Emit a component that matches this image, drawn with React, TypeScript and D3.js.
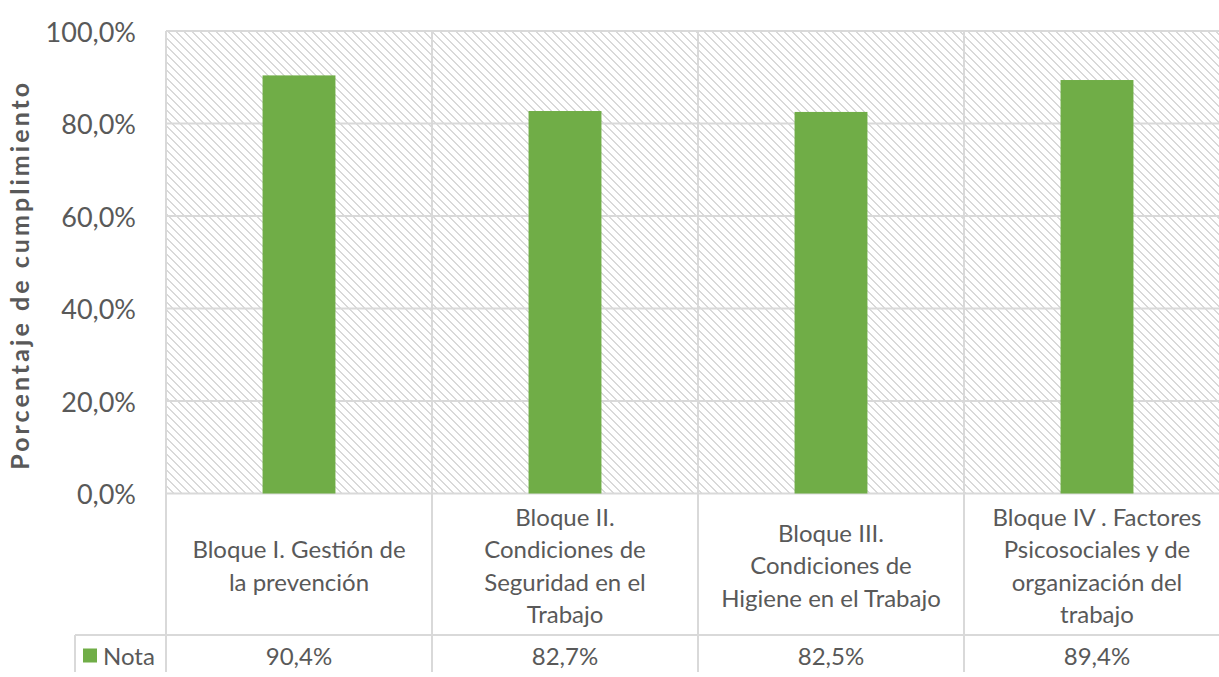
import React from "react";
import * as d3 from "d3";

const categories: string[][] = [
  ["Bloque I. Gestión de", "la prevención"],
  ["Bloque II.", "Condiciones de", "Seguridad en el", "Trabajo"],
  ["Bloque III.", "Condiciones de", "Higiene en el Trabajo"],
  ["Bloque IV . Factores", "Psicosociales y de", "organización del", "trabajo"],
];
const seriesName = "Nota";
const values = [0.904, 0.827, 0.825, 0.894];
const valueLabels = ["90,4%", "82,7%", "82,5%", "89,4%"];
const yTicks = [0, 0.2, 0.4, 0.6, 0.8, 1.0];
const yTitle = "Porcentaje de cumplimiento";

const W = 1219;
const H = 677;
const left = 166;
const right = 1230;
const top = 31;
const bottom = 493.5;
const labelRowBottom = 635;
const tableBottom = 672;
const grid = "#d9d9d9";
const textColor = "#595959";
const green = "#70ad47";
const font = "Lato, 'Open Sans', sans-serif";

export default function App() {
  const keys = categories.map((_, i) => String(i));
  const xCell = d3.scaleBand<string>().domain(keys).range([left, right]);
  const xBar = d3
    .scaleBand<string>()
    .domain(keys)
    .range([left, right])
    .paddingInner(0.726)
    .paddingOuter(0.363);
  const y = d3.scaleLinear().domain([0, 1]).range([bottom, top]);
  const fmt = (v: number) => d3.format(".1f")(v * 100).replace(".", ",") + "%";
  const lineH = 32.5;
  const labelMid = (bottom + labelRowBottom) / 2;
  const fs = 24;
  const rowY = 655;

  return (
    <svg
      width={W}
      height={H}
      style={{ position: "absolute", left: 0, top: 0, background: "#fff" }}
      fontFamily={font}
    >
      <defs>
        <pattern id="hatch" patternUnits="userSpaceOnUse" width="8" height="8">
          <rect width="8" height="8" fill="#fff" />
          {d3.range(8).map((i) => (
            <rect key={i} x={i} y={i} width={2} height={1} fill={grid} />
          ))}
          <rect x={0} y={7} width={1} height={1} fill={grid} />
        </pattern>
      </defs>
      <rect x={left} y={top} width={right - left} height={bottom - top} fill="url(#hatch)" />
      {yTicks.map((t) => (
        <line key={t} x1={left} x2={right} y1={y(t)} y2={y(t)} stroke={grid} strokeWidth={2} />
      ))}
      {keys.map((k) => (
        <line
          key={k}
          x1={xCell(k)!}
          x2={xCell(k)!}
          y1={top}
          y2={tableBottom}
          stroke={grid}
          strokeWidth={2}
        />
      ))}
      <line x1={75} x2={75} y1={labelRowBottom} y2={tableBottom} stroke={grid} strokeWidth={2} />
      <line x1={75} x2={right} y1={labelRowBottom} y2={labelRowBottom} stroke={grid} strokeWidth={2} />
      {values.map((v, i) => (
        <rect
          key={i}
          x={xBar(String(i))!}
          y={y(v)}
          width={xBar.bandwidth()}
          height={y(0) - y(v)}
          fill={green}
        />
      ))}
      {yTicks.map((t) => (
        <text
          key={t}
          x={136}
          y={y(t)}
          textAnchor="end"
          dominantBaseline="central"
          fontSize={27}
          fill={textColor}
        >
          {fmt(t)}
        </text>
      ))}
      <text
        transform={`translate(19,${(top + bottom) / 2 + 14}) rotate(-90)`}
        textAnchor="middle"
        dominantBaseline="central"
        fontSize={25}
        fontWeight="bold"
        fill={textColor}
        textLength={387}
        lengthAdjust="spacing"
      >
        {yTitle}
      </text>
      {categories.map((lines, i) => {
        const cx = xCell(String(i))! + xCell.bandwidth() / 2;
        const y0 = labelMid - ((lines.length - 1) * lineH) / 2;
        return (
          <text key={i} textAnchor="middle" dominantBaseline="central" fontSize={fs} fill={textColor}>
            {lines.map((l, j) => (
              <tspan key={j} x={cx} y={y0 + j * lineH}>
                {l}
              </tspan>
            ))}
          </text>
        );
      })}
      {valueLabels.map((l, i) => (
        <text
          key={i}
          x={xCell(String(i))! + xCell.bandwidth() / 2}
          y={rowY}
          textAnchor="middle"
          dominantBaseline="central"
          fontSize={fs}
          fill={textColor}
        >
          {l}
        </text>
      ))}
      <rect x={83} y={rowY - 6.5} width={14} height={14} fill={green} />
      <text x={103} y={rowY} dominantBaseline="central" fontSize={fs} fill={textColor}>
        {seriesName}
      </text>
    </svg>
  );
}
